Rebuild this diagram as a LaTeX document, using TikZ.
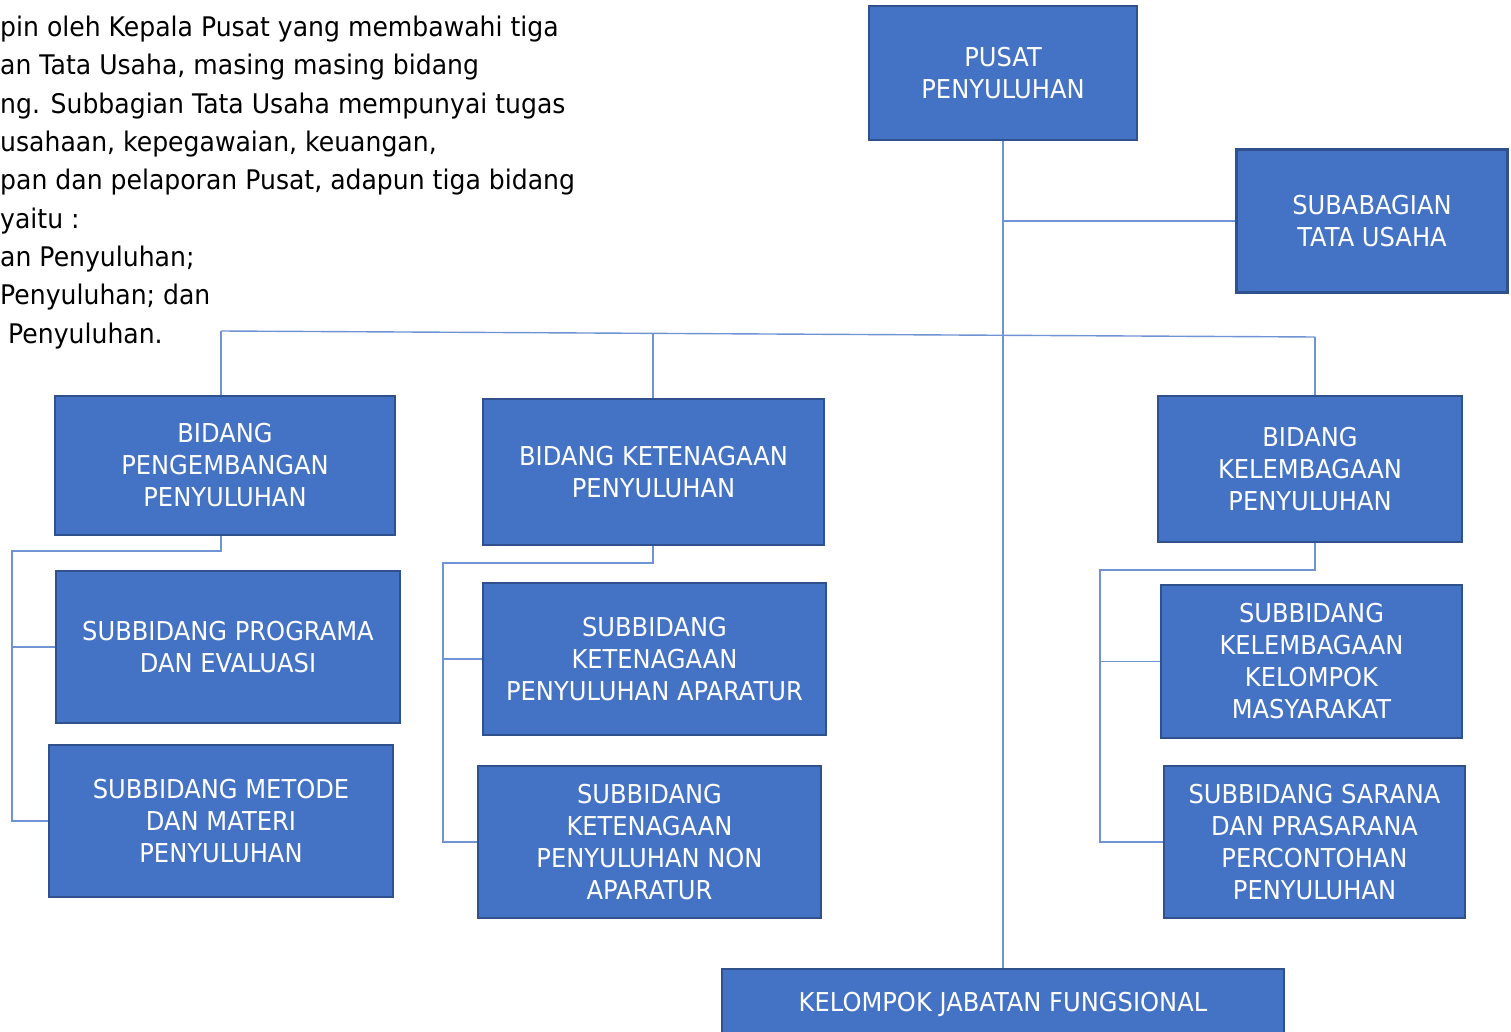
\documentclass[tikz,border=0pt]{standalone}
\usepackage{fontspec}
\setmainfont{DejaVu Sans}[FakeStretch=0.93]
\usetikzlibrary{positioning}
\definecolor{boxblue}{HTML}{4472C4}
\definecolor{boxedge}{HTML}{2F528F}
\definecolor{linkblue}{HTML}{6F93D3}

\begin{document}
\begin{tikzpicture}[x=1pt,y=-1pt]
\tikzstyle{unit}=[draw=boxedge, line width=2.5pt, fill=boxblue, text=white, align=center, inner sep=0pt, font=\fontsize{26}{32}\selectfont]
\tikzstyle{link}=[draw=linkblue, line width=1.4pt]
\useasboundingbox (0,0) rectangle (1511,1032);

\node [anchor=base west, align=left, inner sep=0pt, font=\fontsize{27}{38.3}\selectfont] (intro) at (0,343)
 {pin oleh Kepala Pusat yang membawahi tiga\\
  an Tata Usaha, masing masing bidang\\
  ng. Subbagian Tata Usaha mempunyai tugas\\
  usahaan, kepegawaian, keuangan,\\
  pan dan pelaporan Pusat, adapun tiga bidang\\
  yaitu :\\
  an Penyuluhan;\\
  Penyuluhan; dan\\
  \hspace*{8pt}Penyuluhan.};

\draw node [unit, minimum width=268, minimum height=134] (pusat) at (1003,73) {PUSAT\\PENYULUHAN};
\draw node [unit, minimum width=271, minimum height=143] (tu) at (1372,221) {SUBABAGIAN\\TATA USAHA};
\draw node [unit, minimum width=340, minimum height=139] (bpp) at (225,465.5) {BIDANG\\PENGEMBANGAN\\PENYULUHAN};
\draw node [unit, minimum width=341, minimum height=146] (bkp) at (653.5,472) {BIDANG KETENAGAAN\\PENYULUHAN};
\draw node [unit, minimum width=304, minimum height=146] (bkl) at (1310,469) {BIDANG\\KELEMBAGAAN\\PENYULUHAN};
\draw node [unit, minimum width=344, minimum height=152] (spe) at (228,647) {SUBBIDANG PROGRAMA\\DAN EVALUASI};
\draw node [unit, minimum width=344, minimum height=152] (smm) at (221,821) {SUBBIDANG METODE\\DAN MATERI\\PENYULUHAN};
\draw node [unit, minimum width=343, minimum height=152] (ska) at (654.5,659) {SUBBIDANG\\KETENAGAAN\\PENYULUHAN APARATUR};
\draw node [unit, minimum width=343, minimum height=152] (skn) at (649.5,842) {SUBBIDANG\\KETENAGAAN\\PENYULUHAN NON\\APARATUR};
\draw node [unit, minimum width=301, minimum height=153] (skk) at (1311.5,661.5) {SUBBIDANG\\KELEMBAGAAN\\KELOMPOK\\MASYARAKAT};
\draw node [unit, minimum width=301, minimum height=152] (ssp) at (1314.5,842) {SUBBIDANG SARANA\\DAN PRASARANA\\PERCONTOHAN\\PENYULUHAN};
\draw node [unit, minimum width=562, minimum height=70] (kjf) at (1003,1004) {KELOMPOK JABATAN FUNGSIONAL};

\coordinate (bl) at (221,331);
\coordinate (bm) at (653,333);
\coordinate (br) at (1315,337);
\coordinate (lk) at (12,551);
\coordinate (mk) at (443,563);
\coordinate (rk) at (1100,570);

\draw [link] (pusat) -- (kjf);
\draw [link] (pusat.south |- tu.west) -- (tu.west);

\draw [link] (bl) -- (br);
\draw [link] (bl) -- (bl |- bpp.north);
\draw [link] (bm) -- (bm |- bkp.north);
\draw [link] (br) -- (br |- bkl.north);

\draw [link] (bpp.south -| bl) |- (lk) |- (smm.west);
\draw [link] (lk |- spe.west) -- (spe.west);
\draw [link] (bkp.south -| bm) |- (mk) |- (skn.west);
\draw [link] (mk |- ska.west) -- (ska.west);
\draw [link] (bkl.south -| br) |- (rk) |- (ssp.west);
\draw [link] (rk |- skk.west) -- (skk.west);
\end{tikzpicture}
\end{document}
